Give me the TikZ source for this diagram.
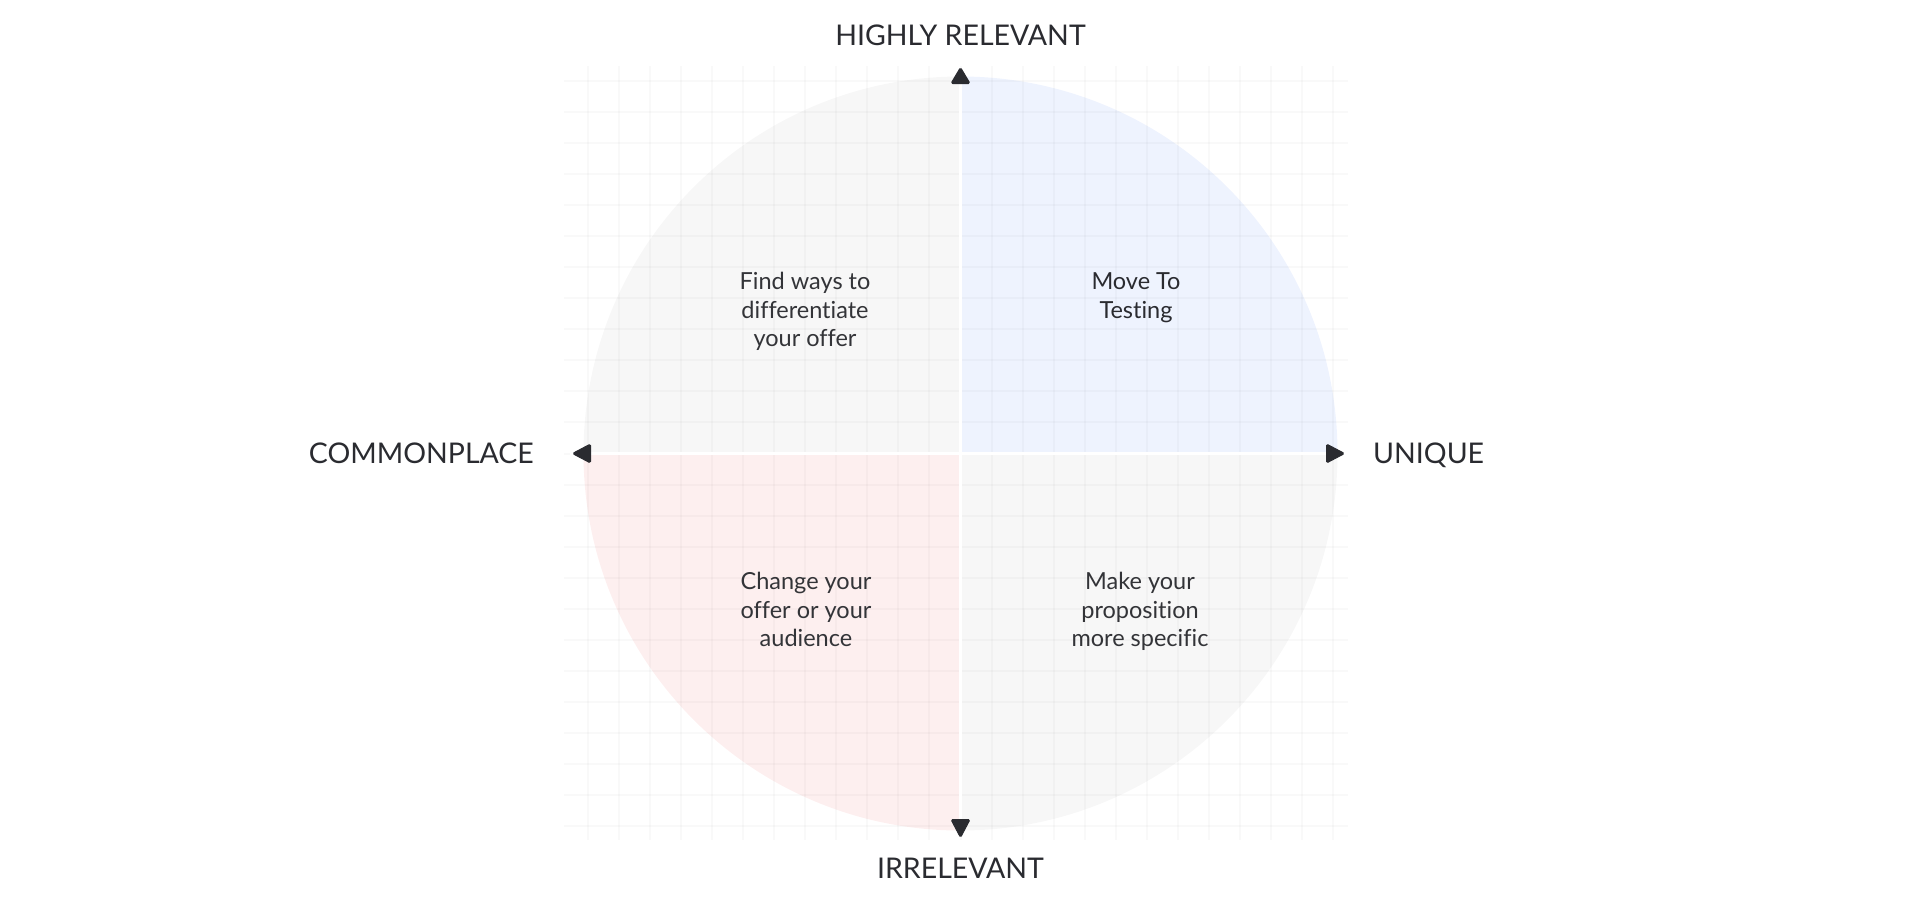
\documentclass[tikz,border=0pt]{standalone}
\usepackage{fontspec}
\setmainfont{Lato}[Ligatures={NoCommon,NoContextual}]
\definecolor{qgray}{HTML}{F7F7F7}
\definecolor{qblue}{HTML}{EEF3FE}
\definecolor{qpink}{HTML}{FDEFEF}
\definecolor{ink}{HTML}{2A2B30}
\definecolor{bodyink}{HTML}{333438}
\tikzset{
  axislabel/.style={font=\fontsize{28.5}{32}\selectfont, text=ink, inner sep=0pt},
  quadtext/.style={font=\fontsize{23.5}{28.7}\selectfont, text=bodyink, align=center, inner sep=0pt, anchor=north},
  axistip/.style={fill=ink, draw=ink, line width=1pt, rounded corners=1.5pt, line join=round},
  gridline/.style={draw=black, draw opacity=0.022, line width=2pt}
}
\begin{document}
\begin{tikzpicture}[x=1pt,y=-1pt]
\useasboundingbox (0,0) rectangle (1920,903);
\coordinate (c) at (960.5,453.5);
% quadrant fills
\begin{scope}
  \clip (c) circle[radius=377];
  \fill[qgray] (580,70) rectangle (959,452);
  \fill[qblue] (962,70) rectangle (1345,452);
  \fill[qpink] (580,455) rectangle (959,840);
  \fill[qgray] (962,455) rectangle (1345,840);
\end{scope}
% grid
\foreach \k in {-12,...,12}{
  \draw[gridline] (960.5+31.05*\k,66) -- (960.5+31.05*\k,840);
  \draw[gridline] (564,453.5+31.05*\k) -- (1348,453.5+31.05*\k);
}
% white separators
\fill[white] (959,70) rectangle (962,836);
\fill[white] (570,452) rectangle (1350,455);
% arrow tips
\fill[axistip] (960.5,67.5) -- (970,83.5) -- (951,83.5) -- cycle;
\fill[axistip] (960.5,837.5) -- (970,819.5) -- (951,819.5) -- cycle;
\fill[axistip] (572.5,453.5) -- (590.5,444) -- (590.5,463) -- cycle;
\fill[axistip] (1344.5,453.5) -- (1326.5,444) -- (1326.5,463) -- cycle;
% axis labels
\node[axislabel, anchor=base] (top) at (960.5,45) {HIGHLY RELEVANT};
\node[axislabel, anchor=base] (bottom) at (960.5,878) {IRRELEVANT};
\node[axislabel, anchor=base east] (left) at (534,463.3) {COMMONPLACE};
\node[axislabel, anchor=base west] (right) at (1373,463.3) {UNIQUE};
% quadrant texts
\node[quadtext] (tl) at (805,269.3) {\rule{0pt}{20pt}Find ways to\\differentiate\\your offer};
\node[quadtext, text=ink] (tr) at (1136,269.3) {\rule{0pt}{20pt}Move To\\Testing};
\node[quadtext] (bl) at (806,569.3) {\rule{0pt}{20pt}Change your\\offer or your\\audience};
\node[quadtext] (br) at (1140,569.3) {\rule{0pt}{20pt}Make your\\proposition\\more specific};
\end{tikzpicture}
\end{document}
